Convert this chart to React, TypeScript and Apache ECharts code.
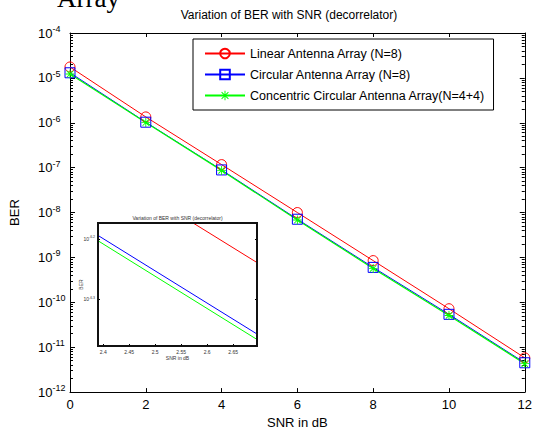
import React, { useEffect, useRef } from "react";
import * as echarts from "echarts";

const snr = [0, 2, 4, 6, 8, 10, 12];
const berLinear = [1.75e-5, 1.35e-6, 1.17e-7, 1.0e-8, 8.5e-10, 7.2e-11, 5.8e-12];
const berCircular = [1.3e-5, 1.03e-6, 8.9e-8, 7.1e-9, 6.0e-10, 5.4e-11, 4.5e-12];
const berConcentric = [1.22e-5, 1.01e-6, 8.7e-8, 6.8e-9, 5.7e-10, 5.1e-11, 4.3e-12];
const seriesNames = [
  "Linear Antenna Array (N=8)",
  "Circular Antenna Array (N=8)",
  "Concentric Circular Antenna Array(N=4+4)",
];
const insetXTicks = [2.4, 2.45, 2.5, 2.55, 2.6, 2.65];
const insetYTicks = [-6.2, -6.3];

const FONT = '"Liberation Sans", Arial, sans-serif';
const STAR =
  "path://M4.5,0L5.5,0L5.5,10L4.5,10Z M0,4.5L10,4.5L10,5.5L0,5.5Z M1.1,1.8L1.8,1.1L8.9,8.2L8.2,8.9Z M8.2,1.1L8.9,1.8L1.8,8.9L1.1,8.2Z";

const minorTicks: number[] = [];
for (let e = -12; e <= -5; e++) {
  for (let m = 2; m <= 9; m++) minorTicks.push(Number(`${m}e${e}`));
}

const pairs = (ys: number[], f: (v: number) => number = (v) => v) =>
  snr.map((x, i) => [x, f(ys[i])]);

export default function App() {
  const ref = useRef<HTMLDivElement>(null);
  useEffect(() => {
    document.body.style.margin = "0";
    document.body.style.overflow = "hidden";
    const chart = echarts.init(ref.current!, null, { renderer: "svg" });
    const black = "#000";
    const mainLeft = 67, mainTop = 33, mainW = 458, mainH = 361;
    const inL = 98, inT = 223, inW = 159, inH = 123;
    const logAxisBase = {
      type: "log" as const,
      logBase: 10,
      min: 1e-12,
      max: 1e-4,
      interval: 1,
      gridIndex: 0,
      splitLine: { show: false },
    };
    chart.setOption({
      animation: false,
      backgroundColor: "#fff",
      textStyle: { fontFamily: FONT },
      grid: [
        { left: mainLeft, top: mainTop, width: mainW, height: mainH },
        { left: inL, top: inT, width: inW, height: inH },
      ],
      legend: {
        orient: "vertical",
        left: 193,
        top: 39,
        itemWidth: 40,
        itemHeight: 12,
        itemGap: 8,
        padding: [8, 8, 8, 11],
        borderColor: black,
        borderWidth: 1,
        backgroundColor: "#fff",
        selectedMode: false,
        textStyle: { fontSize: 12.5, color: black, fontFamily: FONT },
        data: seriesNames,
        z: 10,
      },
      xAxis: [
        {
          type: "value",
          gridIndex: 0,
          min: 0,
          max: 12,
          interval: 2,
          position: "bottom",
          name: "SNR in dB",
          nameLocation: "middle",
          nameGap: 21,
          nameTextStyle: { fontSize: 13, color: black },
          axisLine: { lineStyle: { color: black, width: 1 } },
          axisTick: { inside: true, length: 4, lineStyle: { color: black } },
          axisLabel: { fontSize: 13, color: black, margin: 6 },
          splitLine: { show: false },
        },
        {
          type: "value",
          gridIndex: 0,
          min: 0,
          max: 12,
          interval: 2,
          position: "top",
          axisLine: { lineStyle: { color: black, width: 1 } },
          axisTick: { inside: true, length: 4, lineStyle: { color: black } },
          axisLabel: { show: false },
          splitLine: { show: false },
        },
        {
          type: "value",
          gridIndex: 1,
          min: 2.39,
          max: 2.696,
          position: "bottom",
          z: 6,
          axisLine: { show: false },
          axisTick: { inside: true, length: 2, customValues: insetXTicks, lineStyle: { color: black } },
          axisLabel: {
            customValues: insetXTicks,
            fontSize: 5,
            color: "#333",
            margin: 3,
            formatter: (v: number) => String(+v.toFixed(2)),
          },
          splitLine: { show: false },
        },
      ],
      yAxis: [
        {
          ...logAxisBase,
          position: "left",
          name: "BER",
          nameLocation: "middle",
          nameGap: 49,
          nameTextStyle: { fontSize: 13, color: black },
          axisLine: { show: true, lineStyle: { color: black, width: 1 } },
          axisTick: { inside: true, length: 5, lineStyle: { color: black } },
          axisLabel: {
            align: "left",
            margin: 32,
            formatter: (v: number) => `{b|10}{s|${Math.round(Math.log10(v))}}`,
            rich: {
              b: { fontSize: 13, color: black, fontFamily: FONT },
              s: { fontSize: 9, color: black, fontFamily: FONT, verticalAlign: "top", padding: [0, 0, 8, 0] },
            },
          },
        },
        {
          ...logAxisBase,
          position: "left",
          axisLine: { show: false },
          axisTick: { inside: true, length: 3, customValues: minorTicks, lineStyle: { color: black } },
          axisLabel: { show: false },
        },
        {
          ...logAxisBase,
          position: "right",
          axisLine: { show: true, lineStyle: { color: black, width: 1 } },
          axisTick: { inside: true, length: 5, lineStyle: { color: black } },
          axisLabel: { show: false },
        },
        {
          ...logAxisBase,
          position: "right",
          axisLine: { show: false },
          axisTick: { inside: true, length: 3, customValues: minorTicks, lineStyle: { color: black } },
          axisLabel: { show: false },
        },
        {
          type: "value",
          gridIndex: 1,
          min: -6.377,
          max: -6.174,
          position: "left",
          z: 6,
          axisLine: { show: false },
          axisTick: { inside: true, length: 2, customValues: insetYTicks, lineStyle: { color: black } },
          axisLabel: {
            customValues: insetYTicks,
            margin: 3,
            formatter: (v: number) => `{b|10}{s|${v.toFixed(1)}}`,
            rich: {
              b: { fontSize: 5, color: "#333", fontFamily: FONT },
              s: { fontSize: 3.5, color: "#333", fontFamily: FONT, padding: [0, 0, 3, 0] },
            },
          },
          splitLine: { show: false },
        },
        {
          type: "value",
          gridIndex: 1,
          min: -6.377,
          max: -6.174,
          position: "right",
          z: 6,
          axisLine: { show: false },
          axisTick: { inside: true, length: 2, customValues: insetYTicks, lineStyle: { color: black } },
          axisLabel: { show: false },
          splitLine: { show: false },
        },
      ],
      series: [
        {
          name: seriesNames[0],
          type: "line",
          xAxisIndex: 0,
          yAxisIndex: 0,
          data: pairs(berLinear),
          symbol: "circle",
          symbolSize: 10,
          lineStyle: { color: "#ff0000", width: 1 },
          itemStyle: { color: "rgba(0,0,0,0)", borderColor: "#ff0000", borderWidth: 1 },
          z: 2,
        },
        {
          name: seriesNames[1],
          type: "line",
          xAxisIndex: 0,
          yAxisIndex: 0,
          data: pairs(berCircular),
          symbol: "rect",
          symbolSize: 10,
          lineStyle: { color: "#0000ff", width: 1 },
          itemStyle: { color: "rgba(0,0,0,0)", borderColor: "#0000ff", borderWidth: 1 },
          z: 2,
        },
        {
          name: seriesNames[2],
          type: "line",
          xAxisIndex: 0,
          yAxisIndex: 0,
          data: pairs(berConcentric),
          symbol: STAR,
          symbolSize: 9,
          lineStyle: { color: "#00ff00", width: 1.2 },
          itemStyle: { color: "#00ff00" },
          z: 2,
        },
        {
          type: "line",
          xAxisIndex: 2,
          yAxisIndex: 4,
          data: pairs(berLinear, Math.log10),
          showSymbol: false,
          lineStyle: { color: "#ff0000", width: 1 },
          z: 5,
          silent: true,
        },
        {
          type: "line",
          xAxisIndex: 2,
          yAxisIndex: 4,
          data: pairs(berCircular, Math.log10),
          showSymbol: false,
          lineStyle: { color: "#0000ff", width: 1 },
          z: 5,
          silent: true,
        },
        {
          type: "line",
          xAxisIndex: 2,
          yAxisIndex: 4,
          data: pairs(berConcentric, Math.log10),
          showSymbol: false,
          lineStyle: { color: "#00ff00", width: 1 },
          z: 5,
          silent: true,
        },
      ],
      graphic: {
        elements: [
          {
            type: "text",
            z: 1,
            style: {
              text: "Array",
              x: 57,
              y: 11,
              font: '27px "Liberation Serif", "Times New Roman", serif',
              fill: black,
              verticalAlign: "bottom",
            },
          },
          {
            type: "text",
            z: 1,
            style: {
              text: "Variation of BER with SNR (decorrelator)",
              x: 289,
              y: 15,
              font: `12px ${FONT}`,
              fill: black,
              align: "center",
              verticalAlign: "middle",
            },
          },
          {
            type: "rect",
            z: 3,
            shape: { x: inL, y: inT, width: inW, height: inH },
            style: { fill: "#fff", stroke: "none" },
          },
          {
            type: "rect",
            z: 7,
            shape: { x: inL, y: inT, width: inW, height: inH },
            style: { fill: "none", stroke: "#111", lineWidth: 2 },
          },
          {
            type: "text",
            z: 7,
            style: {
              text: "Variation of BER with SNR (decorrelator)",
              x: inL + inW / 2,
              y: inT - 5,
              font: `5px ${FONT}`,
              fill: "#333",
              align: "center",
              verticalAlign: "middle",
            },
          },
          {
            type: "text",
            z: 7,
            style: {
              text: "SNR in dB",
              x: inL + inW / 2,
              y: inT + inH + 12,
              font: `5px ${FONT}`,
              fill: "#333",
              align: "center",
              verticalAlign: "middle",
            },
          },
          {
            type: "text",
            z: 7,
            x: 81,
            y: inT + inH / 2,
            rotation: Math.PI / 2,
            style: {
              text: "BER",
              x: 0,
              y: 0,
              font: `5px ${FONT}`,
              fill: "#333",
              align: "center",
              verticalAlign: "middle",
            },
          },
        ],
      },
    });
    return () => chart.dispose();
  }, []);
  return (
    <div
      ref={ref}
      style={{ position: "absolute", left: 0, top: 0, width: 535, height: 434 }}
    />
  );
}
